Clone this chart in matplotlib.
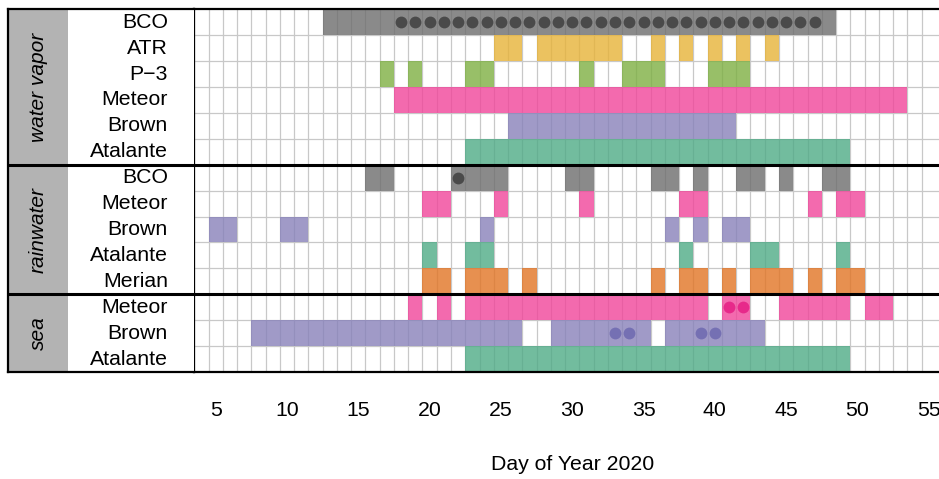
import matplotlib

matplotlib.use("Agg")
import matplotlib.pyplot as plt
from matplotlib.patches import Rectangle

plt.rcParams["font.family"] = ["Liberation Sans", "DejaVu Sans"]

# rows, top to bottom: (section, label, colour key)
sections = ["water vapor", "rainwater", "sea"]
section_rows = [6, 5, 3]
row_labels = ["BCO", "ATR", "P\u22123", "Meteor", "Brown", "Atalante",
              "BCO", "Meteor", "Brown", "Atalante", "Merian",
              "Meteor", "Brown", "Atalante"]
row_colors = ["bco", "atr", "p3", "meteor", "brown", "atalante",
              "bco", "meteor", "brown", "atalante", "merian",
              "meteor", "brown", "atalante"]

# sampled days, as (first, last) spans per row
row_spans = [
    [(13, 48)],                                                   # BCO vapor
    [(25, 26), (28, 33), (36, 36), (38, 38), (40, 40), (42, 42), (44, 44)],  # ATR
    [(17, 17), (19, 19), (23, 24), (31, 31), (34, 36), (40, 42)],  # P-3
    [(18, 53)],                                                   # Meteor vapor
    [(26, 41)],                                                   # Brown vapor
    [(23, 49)],                                                   # Atalante vapor
    [(16, 17), (22, 25), (30, 31), (36, 37), (39, 39), (42, 43), (45, 45), (48, 49)],  # BCO rain
    [(20, 21), (25, 25), (31, 31), (38, 39), (47, 47), (49, 50)],  # Meteor rain
    [(5, 6), (10, 11), (24, 24), (37, 37), (39, 39), (41, 42)],    # Brown rain
    [(20, 20), (23, 24), (38, 38), (43, 44), (49, 49)],            # Atalante rain
    [(20, 21), (23, 25), (27, 27), (36, 36), (38, 39), (41, 41), (43, 45), (47, 47), (49, 50)],  # Merian
    [(19, 19), (21, 21), (23, 39), (41, 42), (45, 49), (51, 52)],  # Meteor sea
    [(8, 26), (29, 35), (37, 43)],                                 # Brown sea
    [(23, 49)],                                                    # Atalante sea
]

# days marked with a dot: row index -> spans
dot_spans = {0: [(18, 47)], 6: [(22, 22)], 11: [(41, 42)], 12: [(33, 34), (39, 40)]}

colors = {
    "bco": "#6d6d6d", "atr": "#e7b338", "p3": "#7eb042", "meteor": "#f1459a",
    "brown": "#8881ba", "atalante": "#4fab86", "merian": "#e27424",
}
dot_colors = {"bco": "#4a4a4a", "meteor": "#e7298a", "brown": "#7570b3"}

xticks = [5, 10, 15, 20, 25, 30, 35, 40, 45, 50, 55]
x_min, x_max = 3.5, 55.72

W, H = 939, 479
fig = plt.figure(figsize=(W / 100, H / 100), dpi=100)
top_px, bot_px = 9.3, 372.0
plot_left_px, lab_left_px = 194.3, 8.3
b = 1 - bot_px / H
h = (bot_px - top_px) / H
ax = fig.add_axes([plot_left_px / W, b, (W - plot_left_px) / W, h])
lax = fig.add_axes([lab_left_px / W, b, (plot_left_px - lab_left_px) / W, h])

n_rows = len(row_labels)
for a in (ax, lax):
    a.set_ylim(n_rows, 0)
    for side in ("top", "bottom", "left"):
        a.spines[side].set_linewidth(1.6)
        a.spines[side].set_color("black")
    a.spines["right"].set_visible(False)
    a.set_yticks([])

ax.set_xlim(x_min, x_max)
lax.set_xlim(0, 1)
lax.set_xticks([])

# light grid of day cells
for xv in range(4, 56):
    ax.axvline(xv - 0.5, color="#c8c8c8", lw=0.9, zorder=1)
for yv in range(1, n_rows):
    ax.axhline(yv, color="#c8c8c8", lw=0.9, zorder=1)

# sampled days
for i, spans in enumerate(row_spans):
    for d0, d1 in spans:
        days = list(range(d0, d1 + 1))
        ax.bar(days, [1] * len(days), bottom=i, width=1, align="center",
               color=colors[row_colors[i]], alpha=0.8, linewidth=0, zorder=2)

for i, spans in dot_spans.items():
    for d0, d1 in spans:
        days = list(range(d0, d1 + 1))
        ax.plot(days, [i + 0.5] * len(days), "o", ms=8.5, mew=0,
                color=dot_colors[row_colors[i]], zorder=3)

# section boundaries
edges = [sum(section_rows[:k]) for k in range(1, len(section_rows))]
for a in (ax, lax):
    for e in edges:
        a.axhline(e, color="black", lw=2.2, zorder=4)

# label panel
gray_w = 60.0 / (plot_left_px - lab_left_px)
start = 0
for name, n in zip(sections, section_rows):
    lax.add_patch(Rectangle((0, start), gray_w, n, color="#b3b3b3", lw=0, zorder=0))
    lax.text(gray_w / 2, start + n / 2, name, rotation=90, style="italic",
             fontsize=15, ha="center", va="center")
    start += n
name_x = (168 - lab_left_px) / (plot_left_px - lab_left_px)
for i, lab in enumerate(row_labels):
    lax.text(name_x, i + 0.5, lab, fontsize=15.3, ha="right", va="center")

ax.set_xticks(xticks)
ax.tick_params(axis="x", length=0, pad=21, labelsize=15.3)
x_mid = (30 - x_min) / (x_max - x_min)
ax.text(x_mid, (bot_px - 465) / (bot_px - top_px), "Day of Year 2020",
        transform=ax.transAxes, ha="center", va="center", fontsize=15.3)

fig.savefig("out.png", dpi=100)
